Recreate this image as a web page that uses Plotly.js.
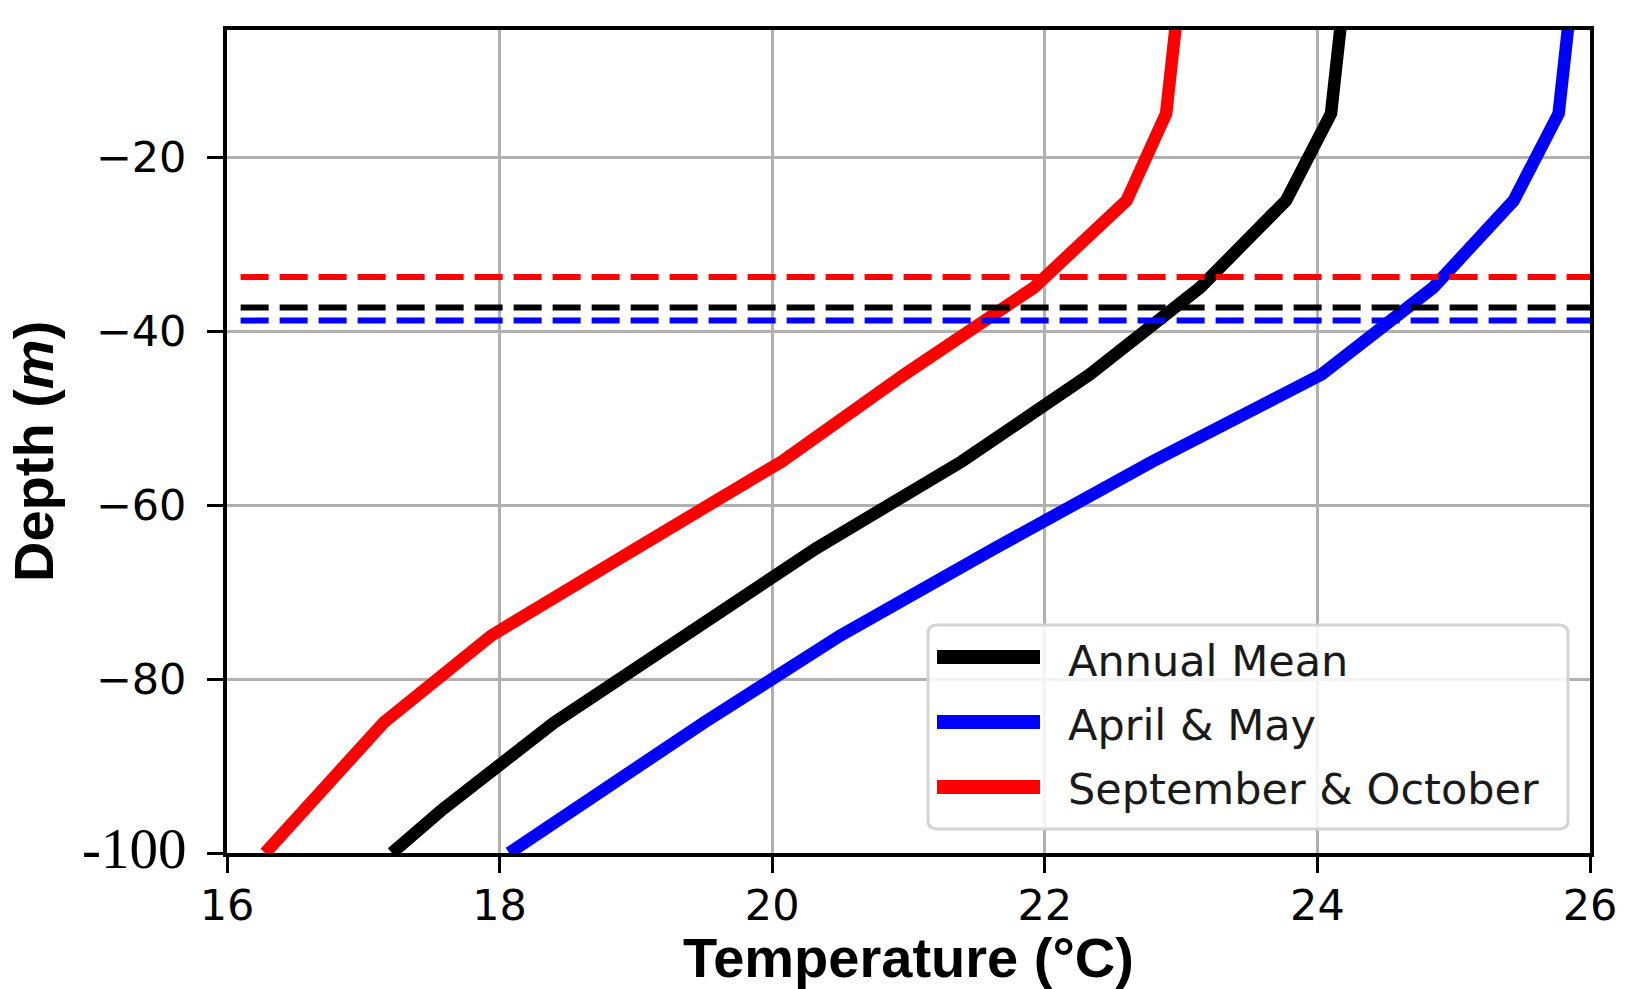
<!DOCTYPE html>
<html>
<head>
<meta charset="utf-8">
<script src="https://cdn.plot.ly/plotly-3.0.1.min.js"></script>
<style>html,body{margin:0;padding:0;background:#fff;}#chart{width:1627px;height:989px;}</style>
</head>
<body>
<div id="chart"></div>
<script>
// Depth levels (m, negative downward)
const depths = [-5, -15, -25, -35, -45, -55, -65, -75, -85, -95, -100];
// Temperature profiles (°C)
const annualMean = [24.17, 24.10, 23.77, 23.14, 22.33, 21.39, 20.32, 19.35, 18.40, 17.58, 17.21];
const aprilMay   = [25.84, 25.77, 25.44, 24.85, 24.03, 22.79, 21.63, 20.50, 19.50, 18.55, 18.07];
const septOct    = [22.96, 22.89, 22.60, 21.92, 20.97, 20.07, 19.00, 17.94, 17.15, 16.56, 16.28];
// Mixed-layer depths (m)
const mldAnnual = -37.3;
const mldAprMay = -38.8;
const mldSepOct = -33.8;
const seriesNames = ['Annual Mean', 'April & May', 'September & October'];
const xTicks = [16, 18, 20, 22, 24, 26];
const yTicks = [-20, -40, -60, -80, -100];
const yTickText = ['\u221220', '\u221240', '\u221260', '\u221280', '<span style="font-family:\'Liberation Serif\';font-size:57px">-100</span>'];
const xRange = [16, 26];
const yRange = [-100, -5.4];
const hlineX = [16.1, 26];

const colors = ['#000000', '#0000ff', '#ff0000'];
const profiles = [annualMean, aprilMay, septOct];
const mlds = [mldAnnual, mldAprMay, mldSepOct];

const traces = [];
profiles.forEach((p, i) => {
  traces.push({
    x: p, y: depths, mode: 'lines', name: seriesNames[i],
    line: {color: colors[i], width: 12.5},
    showlegend: false
  });
});
mlds.forEach((m, i) => {
  traces.push({
    x: hlineX, y: [m, m], mode: 'lines', name: seriesNames[i] + ' MLD',
    line: {color: colors[i], width: 6, dash: '28px,11px'},
    showlegend: false
  });
});

// plot-area geometry (pixels) used to place the hand-drawn legend
const M = {l: 227, r: 37, t: 30, b: 136};
const W = 1627, H = 989;
const PW = W - M.l - M.r, PH = H - M.t - M.b;
const px = v => (v - M.l) / PW;
const py = v => (H - M.b - v) / PH;

// legend box with rounded corners
const bx0 = px(928), bx1 = px(1568), by0 = py(829), by1 = py(625);
const rx = 9 / PW, ry = 9 / PH;
const boxPath = `M${bx0 + rx},${by1} L${bx1 - rx},${by1} Q${bx1},${by1} ${bx1},${by1 - ry} ` +
  `L${bx1},${by0 + ry} Q${bx1},${by0} ${bx1 - rx},${by0} L${bx0 + rx},${by0} ` +
  `Q${bx0},${by0} ${bx0},${by0 + ry} L${bx0},${by1 - ry} Q${bx0},${by1} ${bx0 + rx},${by1} Z`;

const shapes = [{
  type: 'path', xref: 'paper', yref: 'paper', path: boxPath,
  fillcolor: 'rgba(255,255,255,0.85)', line: {color: '#d4d4d4', width: 3}, layer: 'above'
}];
const annotations = [];
const rowLineY = [657, 722, 787];
const rowTextY = [661, 725, 789];
seriesNames.forEach((n, i) => {
  shapes.push({
    type: 'line', xref: 'paper', yref: 'paper',
    x0: px(937), x1: px(1040), y0: py(rowLineY[i]), y1: py(rowLineY[i]),
    line: {color: colors[i], width: 14}, layer: 'above'
  });
  annotations.push({
    xref: 'paper', yref: 'paper', x: px(1066), y: py(rowTextY[i]),
    xanchor: 'left', yanchor: 'middle', showarrow: false, text: n,
    font: {family: 'DejaVu Sans', size: 43, color: '#1a1a1a'}
  });
});
// y-axis title
annotations.push({
  xref: 'paper', yref: 'paper', x: px(33), y: py(452),
  xanchor: 'center', yanchor: 'middle', showarrow: false, textangle: -90,
  text: '<b>Depth (<i>m</i>)</b>',
  font: {family: 'Liberation Sans', size: 56, color: '#000'}
});

const tickFont = {family: 'DejaVu Sans', size: 43, color: '#000'};
const titleFont = {family: 'Liberation Sans', size: 56, color: '#000'};

const layout = {
  width: W, height: H,
  margin: M,
  paper_bgcolor: '#fff', plot_bgcolor: '#fff',
  font: {family: 'DejaVu Sans', color: '#000'},
  title: {
    text: 'Central', font: {family: 'DejaVu Sans', size: 53, color: '#000'},
    xref: 'paper', x: 0.5, xanchor: 'center',
    yref: 'container', y: 0.998, yanchor: 'bottom', pad: {b: 10}
  },
  xaxis: {
    range: xRange, tickvals: xTicks, ticktext: xTicks.map(String),
    showgrid: true, gridcolor: '#b0b0b0', gridwidth: 3, zeroline: false,
    showline: true, linecolor: '#000', linewidth: 4, mirror: true,
    ticks: 'outside', ticklen: 16, tickwidth: 3, tickcolor: '#000',
    tickfont: tickFont, ticklabelstandoff: -5,
    title: {text: '<b>Temperature (°C)</b>', font: titleFont, standoff: 27}
  },
  yaxis: {
    range: yRange, tickvals: yTicks, ticktext: yTickText,
    showgrid: true, gridcolor: '#b0b0b0', gridwidth: 3, zeroline: false,
    showline: true, linecolor: '#000', linewidth: 4, mirror: true,
    ticks: 'outside', ticklen: 16, tickwidth: 3, tickcolor: '#000',
    tickfont: tickFont, ticklabelstandoff: 12
  },
  showlegend: false,
  shapes: shapes,
  annotations: annotations
};

Plotly.newPlot('chart', traces, layout, {displayModeBar: false, staticPlot: true});
</script>
</body>
</html>
